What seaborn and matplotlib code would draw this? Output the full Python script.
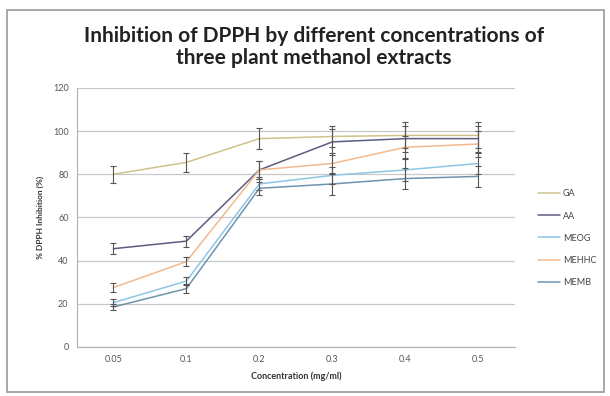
import matplotlib
matplotlib.use("Agg")
import matplotlib.pyplot as plt
import seaborn as sns
import pandas as pd
from matplotlib.patches import Rectangle

concentrations = ["0.05", "0.1", "0.2", "0.3", "0.4", "0.5"]
series_names = ["GA", "AA", "MEOG", "MEHHC", "MEMB"]

ga = [80, 85.5, 96.5, 97.5, 98, 98]
aa = [45.5, 49, 82, 95, 96.5, 96.5]
meog = [20.5, 30.5, 75.5, 79.5, 82, 85]
mehhc = [27.5, 39.5, 82, 85, 92.5, 94]
memb = [18.5, 27, 73.5, 75.5, 78, 79]

ga_err = [4, 4.5, 5, 5, 6, 6]
aa_err = [2.5, 2.5, 4, 6, 6, 6]
meog_err = [1.5, 2, 3, 4, 5, 5]
mehhc_err = [2, 2, 4, 5, 5, 6]
memb_err = [1.5, 2, 3, 5, 5, 5]

colors = ["#cfc38c", "#5e5c80", "#8cc6e6", "#f2b98e", "#6f93ab"]

values = [ga, aa, meog, mehhc, memb]
errors = [ga_err, aa_err, meog_err, mehhc_err, memb_err]

rows = []
for name, vals in zip(series_names, values):
    for c, v in zip(concentrations, vals):
        rows.append({"conc": c, "val": v, "series": name})
df = pd.DataFrame(rows)

sns.set_style("white")
plt.rcParams["font.family"] = ["Lato", "DejaVu Sans"]

fig = plt.figure(figsize=(6.1, 3.96), dpi=100)
ax = fig.add_axes([0.126, 0.124, 0.718, 0.654])

sns.lineplot(data=df, x="conc", y="val", hue="series", palette=colors,
             hue_order=series_names, linewidth=1.1, ax=ax, sort=False)

# error bars
for vals, errs in zip(values, errors):
    ax.errorbar(range(len(concentrations)), vals, yerr=errs, fmt="none",
                ecolor="#555555", elinewidth=0.8, capsize=2.5, capthick=0.8, zorder=3)

ax.set_ylim(0, 120)
ax.set_yticks(range(0, 121, 20))
ax.set_xlim(-0.5, 5.5)
ax.yaxis.grid(True, color="#c8c8c8", linewidth=0.9)
ax.set_axisbelow(True)
for s in ["top", "right"]:
    ax.spines[s].set_visible(False)
ax.spines["left"].set_color("#b0b0b0")
ax.spines["bottom"].set_color("#b0b0b0")
ax.tick_params(axis="both", labelsize=6.5, colors="#555555", length=0, pad=6)

ax.set_xlabel("Concentration (mg/ml)", fontsize=6.5, fontweight="bold", color="#333333", labelpad=5)
ax.set_ylabel("% DPPH Inhibition (%)", fontsize=6, fontweight="bold", color="#333333", labelpad=6)

fig.text(0.515, 0.882, "Inhibition of DPPH by different concentrations of\nthree plant methanol extracts",
         fontsize=15, fontweight="bold", color="#222222", ha="center", va="center",
         linespacing=1.15)

leg = ax.legend(loc="center left", bbox_to_anchor=(1.035, 0.42), frameon=False,
                fontsize=6.5, labelspacing=1.45, handlelength=2.4, handletextpad=0.3)
for t in leg.get_texts():
    t.set_color("#444444")

fig.patches.append(Rectangle((0.012, 0.01), 0.978, 0.965, transform=fig.transFigure,
                             fill=False, edgecolor="#9a9a9a", linewidth=1.2))

fig.savefig("out.png", dpi=100)
